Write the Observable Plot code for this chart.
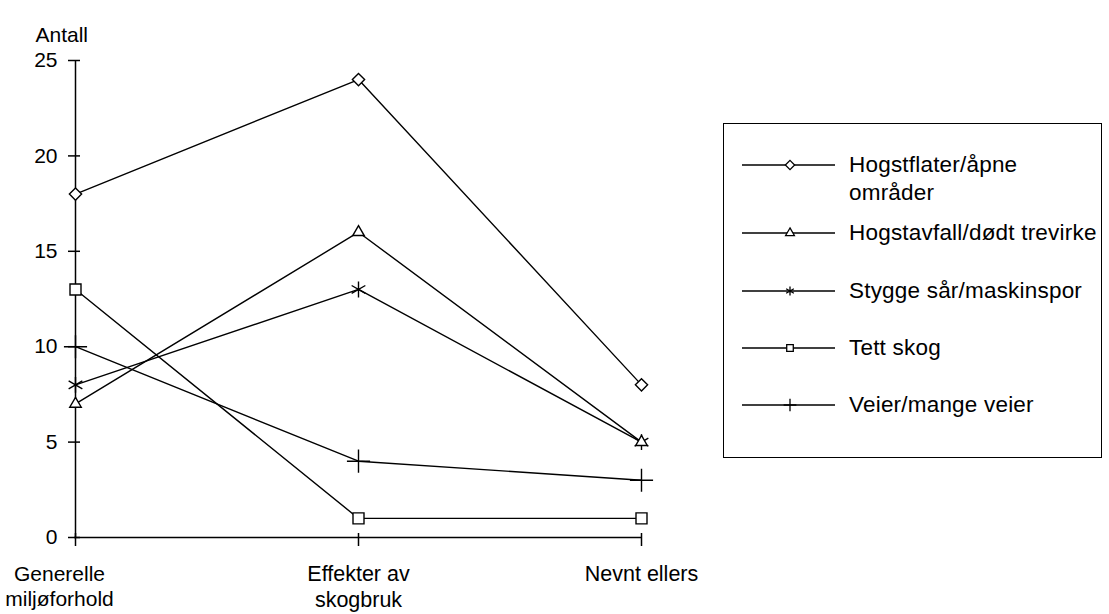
<!DOCTYPE html>
<html>
<head>
<meta charset="utf-8">
<script src="https://cdn.jsdelivr.net/npm/d3@7"></script>
<script src="https://cdn.jsdelivr.net/npm/@observablehq/plot@0.6"></script>
<style>
  html, body { margin: 0; padding: 0; background: #fff; }
  #wrap { position: relative; width: 1109px; height: 614px; font-family: "Liberation Sans", Arial, sans-serif; }
  #legend { position: absolute; left: 723px; top: 123px; width: 379px; height: 335px; border: 1.5px solid #000; box-sizing: border-box; }
  .row { position: absolute; left: 18px; display: flex; align-items: flex-start; }
  .row svg { flex: none; }
  .row span { font-size: 22.5px; line-height: 28px; color: #000; margin-left: 12px; letter-spacing: 0.2px; white-space: nowrap; }
</style>
</head>
<body>
<div id="wrap"></div>
<script>
const categories = ["Generelle miljøforhold", "Effekter av skogbruk", "Nevnt ellers"];
const categoryLabels = ["Generelle\nmiljøforhold", "Effekter av\nskogbruk", "Nevnt ellers"];
const seriesNames = ["Hogstflater/åpne områder", "Hogstavfall/dødt trevirke", "Stygge sår/maskinspor", "Tett skog", "Veier/mange veier"];
const legendLabels = ["Hogstflater/åpne\nområder", "Hogstavfall/dødt trevirke", "Stygge sår/maskinspor", "Tett skog", "Veier/mange veier"];
const hogstflater = [18, 24, 8];
const hogstavfall = [7, 16, 5];
const styggeSar = [8, 13, 5];
const tettSkog = [13, 1, 1];
const veier = [10, 4, 3];
const yTicks = [0, 5, 10, 15, 20, 25];
const symbols = ["diamond2", "triangle2", "asterisk", "square2", "plus"];
const symbolRadius = {diamond2: 5.5, triangle2: 5.5, asterisk: 7.5, square2: 7, plus: 7.5};
const d3symbols = [d3.symbolDiamond2 || d3.symbolDiamond, d3.symbolTriangle2 || d3.symbolTriangle, d3.symbolAsterisk || d3.symbolCross, d3.symbolSquare2 || d3.symbolSquare, d3.symbolPlus || d3.symbolCross];

const seriesValues = [hogstflater, hogstavfall, styggeSar, tettSkog, veier];
const data = [];
seriesNames.forEach((s, i) => categories.forEach((c, j) => data.push({series: s, cat: c, value: seriesValues[i][j], sym: symbols[i]})));

const labelOf = new Map(categories.map((c, i) => [c, categoryLabels[i]]));

const chart = Plot.plot({
  width: 1109,
  height: 614,
  marginLeft: 74,
  marginRight: 468,
  marginTop: 60,
  marginBottom: 77,
  style: {fontFamily: '"Liberation Sans", Arial, sans-serif', fontSize: "21px", color: "#000", background: "#fff"},
  x: {type: "point", domain: categories, padding: 0},
  y: {domain: [0, 25]},
  r: {type: "identity"},
  symbol: {domain: symbols, range: symbols},
  marks: [
    Plot.ruleY([0], {stroke: "#000", strokeWidth: 1.5}),
    Plot.ruleX([categories[0]], {y1: 0, y2: 25, stroke: "#000", strokeWidth: 1.5}),
    Plot.axisY({ticks: yTicks, tickSize: 6, tickPadding: 11, label: null, strokeWidth: 1.5, fontSize: 21}),
    Plot.axisY({ticks: yTicks, tickSize: 6, dx: 6, label: null, tickFormat: () => "", strokeWidth: 1.5}),
    Plot.axisX({tickSize: 9, tickPadding: 16, label: null, tickFormat: d => d === categories[0] ? "" : labelOf.get(d), lineHeight: 1.22, strokeWidth: 1.5, fontSize: 21.5}),
    Plot.axisX({tickSize: 4, dy: -4, label: null, tickFormat: () => "", strokeWidth: 1.5}),
    Plot.text([categories[0]], {x: d => d, y: () => 0, text: d => labelOf.get(d), dx: -16, dy: 25, lineAnchor: "top", lineHeight: 1.22, fontSize: 21}),
    Plot.text(["Antall"], {frameAnchor: "top-left", dx: -39, dy: -33, textAnchor: "start", fontSize: 21}),
    Plot.line(data, {x: "cat", y: "value", z: "series", stroke: "#000", strokeWidth: 1.4}),
    Plot.dot(data, {x: "cat", y: "value", symbol: "sym", r: d => symbolRadius[d.sym], stroke: "#000", fill: "#fff", strokeWidth: 1.4})
  ]
});

const wrap = document.getElementById("wrap");
wrap.appendChild(chart);

const legend = document.createElement("div");
legend.id = "legend";
wrap.appendChild(legend);
const rowTops = [27, 95, 153, 210, 267];
legendLabels.forEach((lab, i) => {
  const row = document.createElement("div");
  row.className = "row";
  row.style.top = rowTops[i] + "px";
  const svg = d3.create("svg").attr("width", 95).attr("height", 28);
  svg.append("line").attr("x1", 0).attr("x2", 93).attr("y1", 14).attr("y2", 14).attr("stroke", "#000").attr("stroke-width", 1.4);
  svg.append("path").attr("d", d3.symbol(d3symbols[i], 55)()).attr("transform", "translate(48,14)")
    .attr("fill", "#fff").attr("stroke", "#000").attr("stroke-width", 1.3);
  row.appendChild(svg.node());
  const span = document.createElement("span");
  span.innerHTML = lab.split("\n").join("<br>");
  row.appendChild(span);
  legend.appendChild(row);
});
</script>
</body>
</html>
